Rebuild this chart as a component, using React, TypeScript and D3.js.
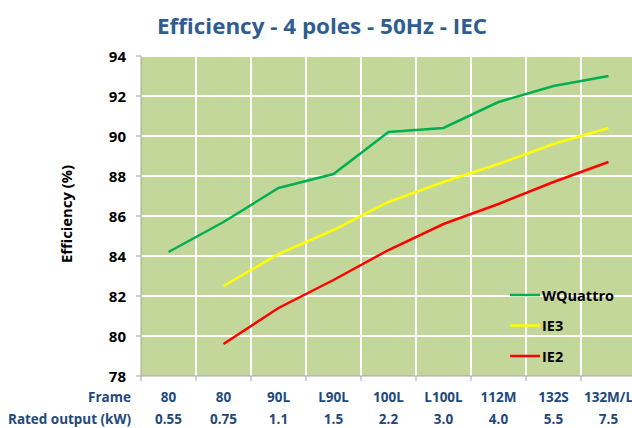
import React from 'react';
import * as d3 from 'd3';

// chart data
const frames = ['80', '80', '90L', 'L90L', '100L', 'L100L', '112M', '132S', '132M/L'];
const ratedOutput = ['0.55', '0.75', '1.1', '1.5', '2.2', '3.0', '4.0', '5.5', '7.5'];
const wquattro = [84.2, 85.7, 87.4, 88.1, 90.2, 90.4, 91.7, 92.5, 93.0];
const ie3 = [null, 82.5, 84.1, 85.3, 86.7, 87.7, 88.6, 89.6, 90.4];
const ie2 = [null, 79.6, 81.4, 82.8, 84.3, 85.6, 86.6, 87.7, 88.7];
const yTicks = [78, 80, 82, 84, 86, 88, 90, 92, 94];

const series = [
  { name: 'WQuattro', values: wquattro, color: '#00b050' },
  { name: 'IE3', values: ie3, color: '#ffff00' },
  { name: 'IE2', values: ie2, color: '#ff0000' },
];

const W = 632;
const H = 428;
const margin = { left: 141, top: 56, right: -4, bottom: 52 };

const FONT = "'Open Sans', 'Liberation Sans', sans-serif";

export default function App() {
  const x = d3
    .scaleBand<number>()
    .domain(frames.map((_, i) => i))
    .range([margin.left, W - margin.right])
    .padding(0);
  const y = d3
    .scaleLinear()
    .domain([78, 94])
    .range([H - margin.bottom, margin.top]);

  const line = d3
    .line<number | null>()
    .defined(d => d != null)
    .x((_, i) => (x(i) ?? 0) + x.bandwidth() / 2)
    .y(d => y(d as number));

  const bottom = y(78);
  const bounds = frames.map((_, i) => x(i) as number);

  return (
    <svg
      width={W}
      height={H}
      style={{ position: 'absolute', left: 0, top: 0, display: 'block' }}
      fontFamily={FONT}
    >
      <rect width={W} height={H} fill="#ffffff" />
      <text
        x={322}
        y={34}
        textAnchor="middle"
        fontSize={22}
        fontWeight="bold"
        fill="#2f5d8f"
        textLength={330}
        lengthAdjust="spacingAndGlyphs"
      >
        Efficiency - 4 poles - 50Hz - IEC
      </text>

      {/* plot background */}
      <rect
        x={margin.left}
        y={margin.top}
        width={W - margin.right - margin.left}
        height={bottom - margin.top}
        fill="#c4d79b"
      />

      {/* gridlines */}
      {yTicks.slice(1).map(t => (
        <line key={'h' + t} x1={margin.left} x2={W} y1={y(t)} y2={y(t)} stroke="#ffffff" strokeWidth={2} />
      ))}
      {bounds.slice(1).map((bx, i) => (
        <line key={'v' + i} x1={bx} x2={bx} y1={margin.top} y2={bottom} stroke="#ffffff" strokeWidth={2} />
      ))}

      {/* axes */}
      <line x1={margin.left} x2={margin.left} y1={margin.top} y2={bottom} stroke="#a6a6a6" />
      <line x1={margin.left} x2={W} y1={bottom} y2={bottom} stroke="#a6a6a6" />
      {yTicks.map(t => (
        <g key={'yt' + t}>
          <line x1={margin.left - 5} x2={margin.left} y1={y(t)} y2={y(t)} stroke="#a6a6a6" />
          <text x={126} y={y(t) + 5.5} textAnchor="end" fontSize={15} fontWeight="bold" fill="#000">
            {t}
          </text>
        </g>
      ))}
      {bounds.map((bx, i) => (
        <line key={'xt' + i} x1={bx} x2={bx} y1={bottom} y2={bottom + 5} stroke="#a6a6a6" />
      ))}

      <text
        transform={`translate(72,${(margin.top + bottom) / 2 - 2}) rotate(-90)`}
        textAnchor="middle"
        fontSize={14}
        fontWeight="bold"
        fill="#000"
        textLength={98}
        lengthAdjust="spacingAndGlyphs"
      >
        Efficiency (%)
      </text>

      {/* category labels */}
      <text x={131} y={402} textAnchor="end" fontSize={13.5} fontWeight="bold" fill="#1f497d">
        Frame
      </text>
      <text x={131} y={424} textAnchor="end" fontSize={13.5} fontWeight="bold" fill="#1f497d" textLength={123} lengthAdjust="spacingAndGlyphs">
        Rated output (kW)
      </text>
      {frames.map((f, i) => (
        <text
          key={'f' + i}
          x={(x(i) ?? 0) + x.bandwidth() / 2}
          y={402}
          textAnchor="middle"
          fontSize={13.5}
          fontWeight="bold"
          fill="#1f497d"
        >
          {f}
        </text>
      ))}
      {ratedOutput.map((r, i) => (
        <text
          key={'r' + i}
          x={(x(i) ?? 0) + x.bandwidth() / 2}
          y={424}
          textAnchor="middle"
          fontSize={13.5}
          fontWeight="bold"
          fill="#1f497d"
        >
          {r}
        </text>
      ))}

      {/* series lines */}
      {series.map(s => (
        <path key={s.name} d={line(s.values) ?? ''} fill="none" stroke={s.color} strokeWidth={2.5} />
      ))}

      {/* legend */}
      {series.map((s, i) => (
        <g key={'lg' + s.name} transform={`translate(510,${295 + i * 30.5})`}>
          <line x1={0} x2={30} y1={0} y2={0} stroke={s.color} strokeWidth={2.5} />
          <text x={32} y={5.5} fontSize={14.5} fontWeight="bold" fill="#000">
            {s.name}
          </text>
        </g>
      ))}
    </svg>
  );
}
